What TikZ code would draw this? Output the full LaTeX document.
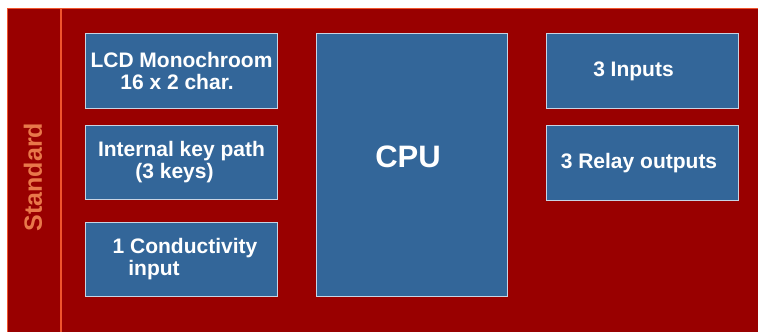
\documentclass[tikz,border=0pt]{standalone}
\usepackage{fontspec}
\setmainfont{Liberation Sans}
\definecolor{bgred}{HTML}{990000}
\definecolor{edgeorange}{HTML}{F0552D}
\definecolor{stdorange}{HTML}{E8784A}
\definecolor{boxblue}{HTML}{336699}
\definecolor{boxedge}{HTML}{C8D4E4}
\begin{document}
\begin{tikzpicture}[x=1pt,y=-1pt,
  blk/.style={draw=boxedge, line width=1pt, fill=boxblue, text=white,
    font=\bfseries\fontsize{21}{22}\selectfont, align=center,
    inner sep=0pt, anchor=north west},
  divider/.style={draw=edgeorange, line width=1.5pt}]
\useasboundingbox (0,0) rectangle (758,332);
\fill[white] (0,0) rectangle (758,332);
% background panel
\draw[draw=edgeorange, fill=bgred, line width=1pt] (7.5,8.5) rectangle (775,350);
\coordinate (divT) at (61,8.5);
\coordinate (divB) at (61,332);
\draw[divider] (divT) -- (divB);
% side label
\node[rotate=90, text=stdorange, font=\bfseries\fontsize{25}{25}\selectfont, inner sep=0pt]
  (std) at (33,177) {Standard};
% left column
\node[blk, minimum width=192pt, minimum height=75pt] (lcd) at (85,33)
  {LCD Monochroom\\16 x 2 char.\hspace*{9pt}};
\node[blk, minimum width=192pt, minimum height=74pt] (keys) at (85,125)
  {Internal key path\\(3 keys)\hspace*{14pt}};
\node[blk, minimum width=192pt, minimum height=74pt] (cond) at (85,222)
  {\hspace*{7pt}1 Conductivity\\input\hspace*{55pt}};
% CPU
\node[blk, minimum width=191pt, minimum height=263pt,
  font=\bfseries\fontsize{31}{31}\selectfont] (cpu) at (316,33)
  {\raisebox{17pt}{CPU}\hspace*{8pt}};
% right column
\node[blk, minimum width=192pt, minimum height=75pt] (inp) at (546,33)
  {3 Inputs\hspace*{18pt}};
\node[blk, minimum width=192pt, minimum height=75pt] (rel) at (546,125)
  {3 Relay outputs\hspace*{7pt}};
\end{tikzpicture}
\end{document}
